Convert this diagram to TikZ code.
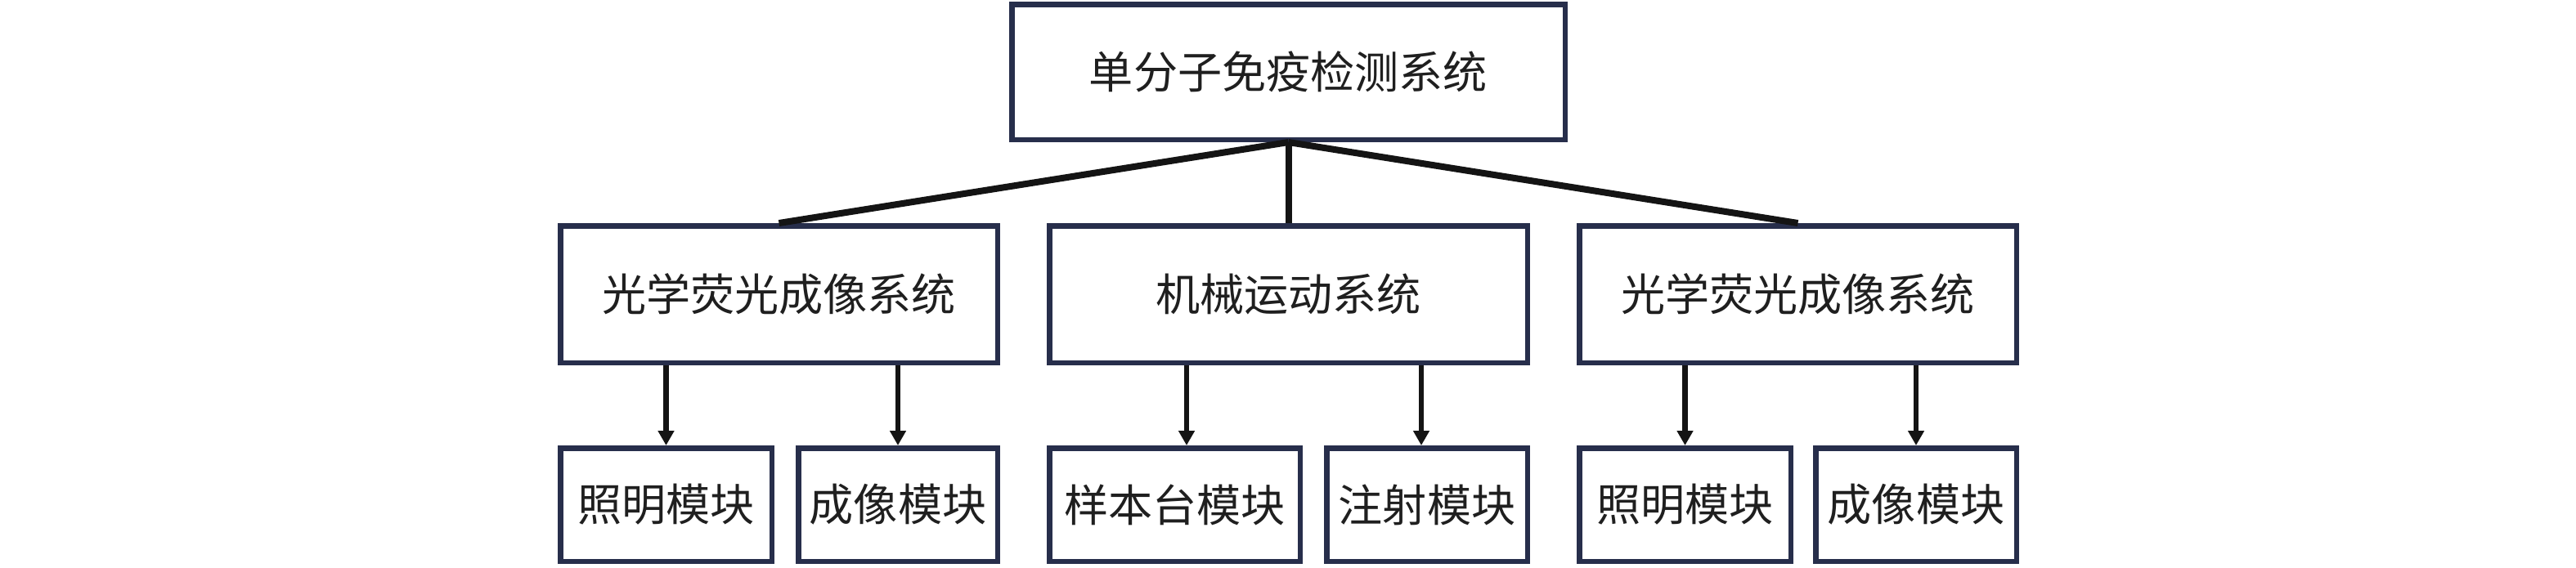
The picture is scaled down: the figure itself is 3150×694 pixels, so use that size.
\documentclass[tikz,border=0pt]{standalone}
\usepackage{fontspec}
\newfontfamily\cjk{Noto Sans CJK SC}
\usetikzlibrary{arrows.meta}
\definecolor{boxnavy}{HTML}{272E4B}
\definecolor{linkblack}{HTML}{141414}

\begin{document}
\begin{tikzpicture}[x=0.1mm,y=-0.1mm,
	sysbox/.style={
		draw=boxnavy, line width=0.65mm, fill=white, inner sep=0pt,
		text=black!88, font=\cjk\fontsize{15.4pt}{18pt}\selectfont
	},
	topbox/.style={sysbox, minimum width=67.65mm, minimum height=16.55mm},
	midbox/.style={sysbox, minimum height=16.75mm},
	modbox/.style={sysbox, minimum height=13.85mm},
	fanline/.style={draw=linkblack, line width=0.8mm},
	downarrow/.style={draw=linkblack, line width=0.68mm,
		-{Triangle[length=1.8mm, width=1.9mm]}}]
	% Fix the page size
	\useasboundingbox (0,0) rectangle (3150,694);
	
	% Top level
	\node[topbox] (SYS) at (1575.5,88) {单分子免疫检测系统};
	
	% Second level: the three subsystems
	\node[midbox, minimum width=53.45mm] (OPTL) at (952.5,360) {光学荧光成像系统};
	\node[midbox, minimum width=58.45mm] (MECH) at (1575.5,360) {机械运动系统};
	\node[midbox, minimum width=53.45mm] (OPTR) at (2198.5,360) {光学荧光成像系统};
	
	% Third level: the modules
	\node[modbox, minimum width=25.85mm] (LIGHTL) at (814.5,617.5) {照明模块};
	\node[modbox, minimum width=24.35mm] (IMGL) at (1098,617.5) {成像模块};
	\node[modbox, minimum width=30.65mm] (STAGE) at (1436.5,617.5) {样本台模块};
	\node[modbox, minimum width=24.55mm] (INJECT) at (1745,617.5) {注射模块};
	\node[modbox, minimum width=25.85mm] (LIGHTR) at (2060.5,617.5) {照明模块};
	\node[modbox, minimum width=24.55mm] (IMGR) at (2343,617.5) {成像模块};
	
	% Lines from the top box to the subsystems
	\draw[fanline] (SYS.south) -- (OPTL.north);
	\draw[fanline] (SYS.south) -- (MECH.north);
	\draw[fanline] (SYS.south) -- (OPTR.north);
	
	% Arrows from the subsystems to their modules
	\draw[downarrow] (OPTL.south -| LIGHTL.north) -- (LIGHTL.north);
	\draw[downarrow] (OPTL.south -| IMGL.north) -- (IMGL.north);
	\draw[downarrow] ([xshift=1.45mm]MECH.south -| STAGE.north) -- ([xshift=1.45mm]STAGE.north);
	\draw[downarrow] ([xshift=-0.7mm]MECH.south -| INJECT.north) -- ([xshift=-0.7mm]INJECT.north);
	\draw[downarrow] (OPTR.south -| LIGHTR.north) -- (LIGHTR.north);
	\draw[downarrow] (OPTR.south -| IMGR.north) -- (IMGR.north);
\end{tikzpicture}
\end{document}
